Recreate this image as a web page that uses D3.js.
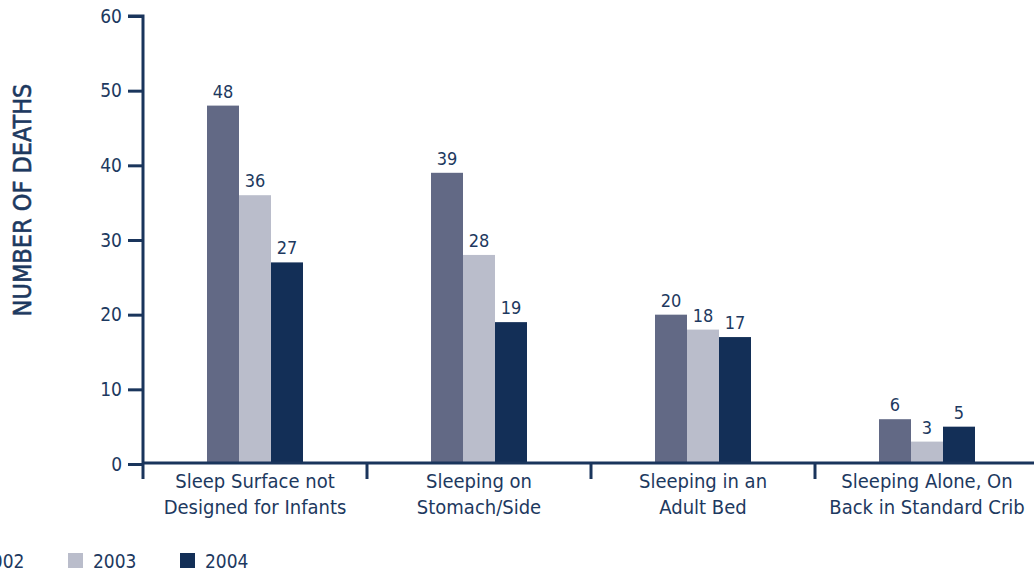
<!DOCTYPE html>
<html>
<head>
<meta charset="utf-8">
<script src="https://cdn.jsdelivr.net/npm/d3@7"></script>
<style>
  html, body { margin: 0; padding: 0; background: #ffffff; }
  svg { display: block; }
  text { font-family: "DejaVu Sans Condensed", "DejaVu Sans", sans-serif; font-stretch: condensed; fill: #1d3960; }
</style>
</head>
<body>
<svg id="chart" width="1034" height="576"></svg>
<script>
// Sleep circumstances of infant deaths, by year
const categories = [
  ["Sleep Surface not", "Designed for Infants"],
  ["Sleeping on", "Stomach/Side"],
  ["Sleeping in an", "Adult Bed"],
  ["Sleeping Alone, On", "Back in Standard Crib"]
];
const years = ["2002", "2003", "2004"];
const deaths2002 = [48, 39, 20, 6];
const deaths2003 = [36, 28, 18, 3];
const deaths2004 = [27, 19, 17, 5];
const yTicks = [0, 10, 20, 30, 40, 50, 60];
const yTitle = "NUMBER OF DEATHS";

const colors = ["#626985", "#babdcb", "#132f57"];
const axisColor = "#1a355c";
const seriesValues = [deaths2002, deaths2003, deaths2004];
const fontStack = '"DejaVu Sans Condensed", "DejaVu Sans", sans-serif';

const svg = d3.select("#chart");

const x0 = 143, bandW = 224;
const x = d3.scaleBand()
  .domain(d3.range(categories.length))
  .range([x0, x0 + bandW * categories.length])
  .paddingInner(0).paddingOuter(0);

const barW = 32;
const xSub = d3.scaleBand()
  .domain(years)
  .range([(bandW - barW * 3) / 2, (bandW + barW * 3) / 2]);

const y = d3.scaleLinear().domain([0, 60]).range([464, 16]);

// bars with value labels
years.forEach((yr, si) => {
  const g = svg.append("g");
  g.selectAll("rect")
    .data(seriesValues[si])
    .join("rect")
    .attr("x", (d, i) => x(i) + xSub(yr))
    .attr("y", d => y(d))
    .attr("width", xSub.bandwidth())
    .attr("height", d => y(0) - y(d))
    .attr("fill", colors[si]);
  g.selectAll("text")
    .data(seriesValues[si])
    .join("text")
    .attr("x", (d, i) => x(i) + xSub(yr) + xSub.bandwidth() / 2)
    .attr("y", d => y(d) - 8)
    .attr("text-anchor", "middle")
    .attr("font-size", 18)
    .text(d => d);
});

// y axis
const yAxis = d3.axisLeft(y).tickValues(yTicks).tickSize(15).tickPadding(6);
const ya = svg.append("g").attr("transform", `translate(${x0},0)`).call(yAxis);
ya.select(".domain").attr("stroke", axisColor).attr("stroke-width", 3).attr("d", `M-15,${y(60)}H0V${y(0)}`);
ya.selectAll(".tick line").attr("stroke", axisColor).attr("stroke-width", 3);
ya.selectAll(".tick text").attr("font-size", 19).attr("fill", "#1d3960")
  .style("font-family", fontStack);

// x axis
const xAxisY = 463;
const xg = svg.append("g");
xg.append("line")
  .attr("x1", x0).attr("x2", 1034)
  .attr("y1", xAxisY).attr("y2", xAxisY)
  .attr("stroke", axisColor).attr("stroke-width", 3);
xg.selectAll("line.tick")
  .data(d3.range(categories.length + 1))
  .join("line")
  .attr("class", "tick")
  .attr("x1", i => x0 + i * bandW).attr("x2", i => x0 + i * bandW)
  .attr("y1", xAxisY).attr("y2", xAxisY + 16)
  .attr("stroke", axisColor).attr("stroke-width", 3);
const labels = xg.selectAll("text")
  .data(categories)
  .join("text")
  .attr("text-anchor", "middle")
  .attr("font-size", 20)
  .attr("transform", (d, i) => `translate(${x(i) + bandW / 2},0)`);
labels.selectAll("tspan")
  .data(d => d)
  .join("tspan")
  .attr("x", 0)
  .attr("y", (d, j) => 488 + j * 26)
  .text(d => d);

// y axis title (medium weight: regular face with a light outline)
svg.append("text")
  .attr("transform", "translate(31,200) rotate(-90)")
  .attr("text-anchor", "middle")
  .attr("font-size", 25)
  .attr("stroke", "#1d3960")
  .attr("stroke-width", 0.6)
  .text(yTitle);

// legend
const legend = svg.append("g");
years.forEach((yr, i) => {
  const lx = -44 + i * 112;
  legend.append("rect")
    .attr("x", lx).attr("y", 553)
    .attr("width", 15).attr("height", 15)
    .attr("fill", colors[i]);
  legend.append("text")
    .attr("x", lx + 25).attr("y", 568)
    .attr("font-size", 19)
    .text(yr);
});
</script>
</body>
</html>
